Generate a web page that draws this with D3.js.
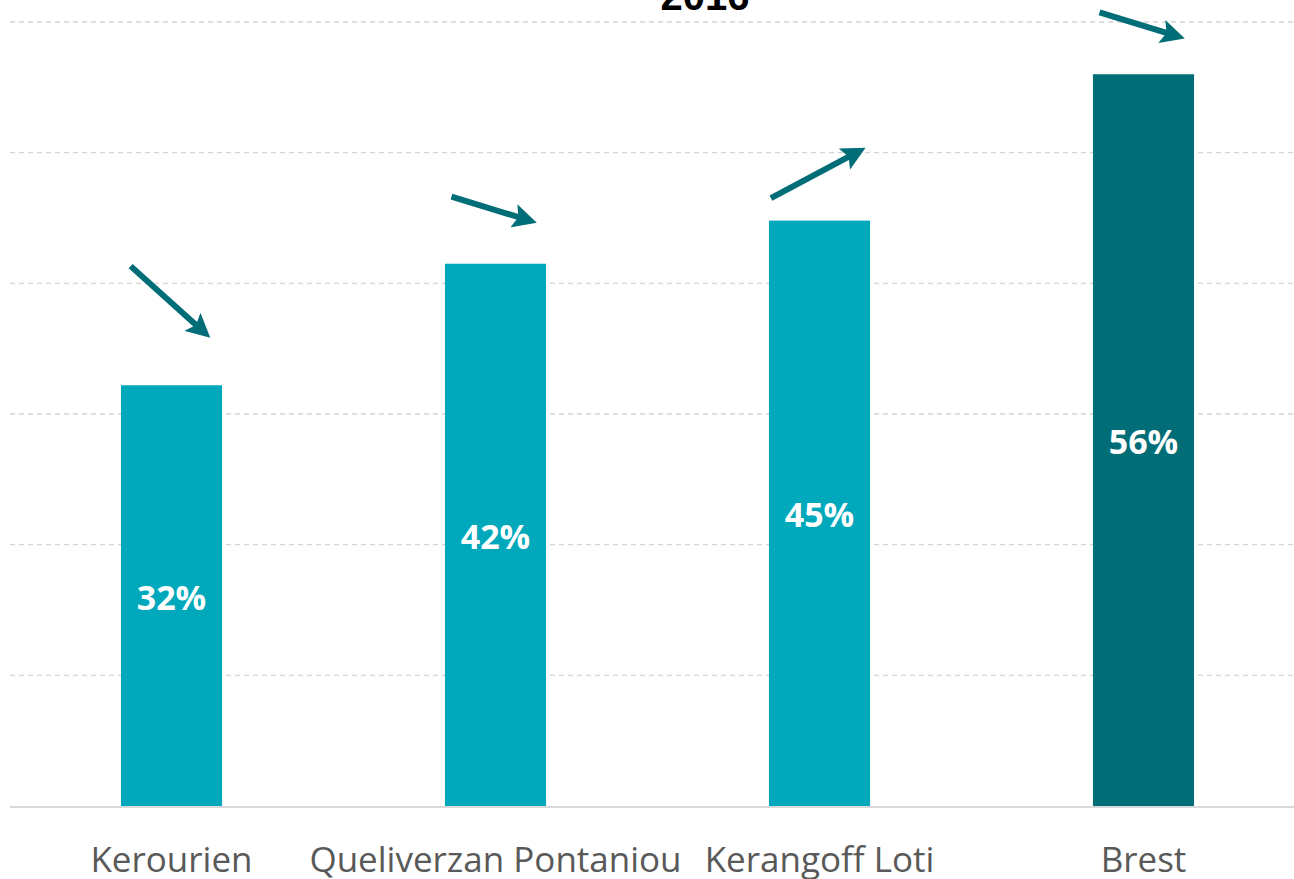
<!DOCTYPE html>
<html>
<head>
<meta charset="utf-8">
<script src="https://cdn.jsdelivr.net/npm/d3@7"></script>
<style>
  html, body { margin: 0; padding: 0; background: #fff; overflow: hidden; }
</style>
</head>
<body>
<div id="chart"></div>
<script>
// chart data
let categories = ["Kerourien", "Queliverzan Pontaniou", "Kerangoff Loti", "Brest"];
let values = [32.2, 41.5, 44.8, 56.0];
let valueLabels = ["32%", "42%", "45%", "56%"];
let highlight = [false, false, false, true];
// trend arrows above each bar: slope angle (deg) and height level (%)
let trendAngle = [42, 17, -28, 17];
let trendLevel = [38.5, 45.6, 48.5, 59.7];
let yTicks = [0, 10, 20, 30, 40, 50, 60];
let title = "2016";

let width = 1294, height = 879;

let svg = d3.select("#chart")
    .append("svg")
    .attr("width", width)
    .attr("height", height);

let x = d3.scaleBand()
    .domain(categories)
    .range([9.5, 1305.5])
    .paddingInner(0.688)
    .paddingOuter(0.344);

let y = d3.scaleLinear()
    .domain([0, 60])
    .range([806, 22]);

// gridlines
svg.append("g")
    .selectAll("line")
    .data(yTicks.filter(d => d > 0))
    .enter()
    .append("line")
    .attr("x1", 10)
    .attr("x2", width)
    .attr("y1", d => y(d))
    .attr("y2", d => y(d))
    .attr("stroke", "#d4d4d4")
    .attr("stroke-width", 1.4)
    .attr("stroke-dasharray", "5,4");

// bars
svg.append("g")
    .selectAll("rect")
    .data(values)
    .enter()
    .append("rect")
    .attr("x", (d, i) => x(categories[i]))
    .attr("y", d => y(d))
    .attr("width", x.bandwidth())
    .attr("height", d => y(0) - y(d))
    .attr("fill", (d, i) => highlight[i] ? "#006d77" : "#00a8bc");

// baseline
svg.append("line")
    .attr("x1", 10)
    .attr("x2", width)
    .attr("y1", y(0) + 1)
    .attr("y2", y(0) + 1)
    .attr("stroke", "#d9d9d9")
    .attr("stroke-width", 2);

// value labels
svg.append("g")
    .selectAll("text")
    .data(values)
    .enter()
    .append("text")
    .attr("x", (d, i) => x(categories[i]) + x.bandwidth() / 2)
    .attr("y", d => (y(d) + y(0)) / 2 + 14)
    .attr("text-anchor", "middle")
    .attr("font-family", "'Open Sans', sans-serif")
    .attr("font-weight", "bold")
    .attr("font-size", 34)
    .attr("fill", "#ffffff")
    .text((d, i) => valueLabels[i]);

// category labels
svg.append("g")
    .selectAll("text")
    .data(categories)
    .enter()
    .append("text")
    .attr("x", d => x(d) + x.bandwidth() / 2)
    .attr("y", 872)
    .attr("text-anchor", "middle")
    .attr("font-family", "'Open Sans', sans-serif")
    .attr("font-size", 35)
    .attr("fill", "#595959")
    .text(d => d);

// trend arrows
svg.append("defs")
    .append("marker")
    .attr("id", "head")
    .attr("viewBox", "0 0 10 10")
    .attr("refX", 7)
    .attr("refY", 5)
    .attr("markerWidth", 4)
    .attr("markerHeight", 4)
    .attr("markerUnits", "strokeWidth")
    .attr("orient", "auto")
    .append("path")
    .attr("d", "M0,0 L10,5 L0,10 L2,5 Z")
    .attr("fill", "#006d77");

svg.append("g")
    .selectAll("line")
    .data(trendAngle)
    .enter()
    .append("line")
    .each(function(a, i) {
        let cx = x(categories[i]) + x.bandwidth() / 2;
        let cy = y(trendLevel[i]);
        let len = Math.abs(a) > 25 ? 110 : 92;
        let r = a * Math.PI / 180;
        let dx = Math.cos(r) * len / 2, dy = Math.sin(r) * len / 2;
        d3.select(this)
            .attr("x1", cx - dx)
            .attr("y1", cy - dy)
            .attr("x2", cx + dx - Math.cos(r) * 10)
            .attr("y2", cy + dy - Math.sin(r) * 10);
    })
    .attr("stroke", "#006d77")
    .attr("stroke-width", 6)
    .attr("marker-end", "url(#head)");

// title (partly above the frame)
svg.append("text")
    .attr("x", 705)
    .attr("y", 10)
    .attr("text-anchor", "middle")
    .attr("font-family", "Arial, 'Liberation Sans', sans-serif")
    .attr("font-weight", "bold")
    .attr("font-size", 40)
    .attr("fill", "#000")
    .text(title);
</script>
</body>
</html>
